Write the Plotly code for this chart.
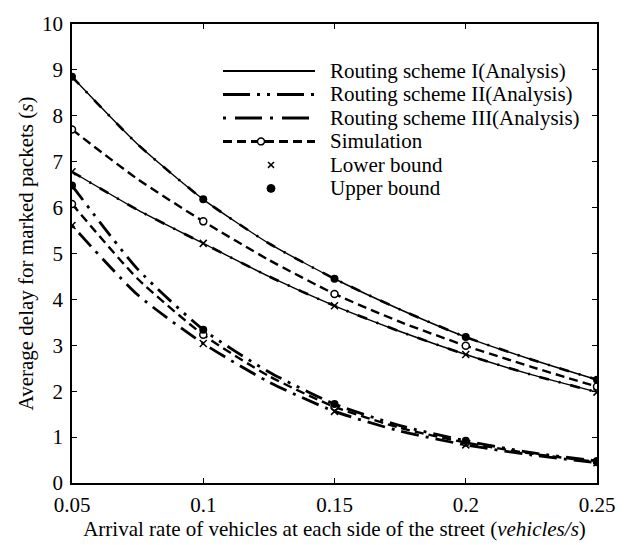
import plotly.graph_objects as go

# Data
x = [0.05, 0.075, 0.1, 0.125, 0.15, 0.175, 0.2, 0.225, 0.25]

# Routing scheme I (upper group)
ub1 = [8.85, 7.38, 6.18, 5.22, 4.45, 3.78, 3.18, 2.69, 2.25]
sim1 = [7.70, 6.62, 5.70, 4.86, 4.12, 3.51, 2.99, 2.53, 2.10]
lb1 = [6.78, 5.95, 5.22, 4.50, 3.86, 3.30, 2.80, 2.36, 1.98]

# Routing schemes II / III (lower group)
ub2 = [6.48, 4.66, 3.34, 2.42, 1.72, 1.25, 0.92, 0.66, 0.48]
sim2 = [6.08, 4.45, 3.23, 2.33, 1.66, 1.20, 0.88, 0.64, 0.46]
lb2 = [5.61, 4.10, 3.04, 2.20, 1.56, 1.13, 0.83, 0.61, 0.44]

xticks = [0.05, 0.1, 0.15, 0.2, 0.25]
xticktext = ["0.05", "0.1", "0.15", "0.2", "0.25"]
yticks = list(range(0, 11))
mark_idx = [0, 2, 4, 6, 8]

legend_labels = ["Routing scheme I(Analysis)", "Routing scheme II(Analysis)",
                 "Routing scheme III(Analysis)", "Simulation", "Lower bound", "Upper bound"]

FONT = "Liberation Serif"
FS = 21
DASHDOTDOT = "18px,7px,3px,7px,3px,7px"
DASHDOT = "3px,7px,18px,7px"
DASH = "9px,5px"

W, H = 633, 545
ML, MR, MT, MB = 72, 36, 14, 62
PW, PH = W - ML - MR, H - MT - MB

def px(xp):
    return (xp - ML) / PW

def py(yp):
    return (H - MB - yp) / PH

fig = go.Figure()

def line(xs, ys, dash, width):
    fig.add_trace(go.Scatter(
        x=xs, y=ys, mode="lines", showlegend=False,
        line=dict(color="black", width=width, dash=dash, shape="spline", smoothing=0.6),
        hoverinfo="skip"))

# scheme I analysis curves (solid) with overlapping dash-dot texture
line(x, ub1, "solid", 1.4)
line(x, lb1, "solid", 1.4)
line(x, ub1, "10px,10px,2px,10px", 2.6)
line(x, lb1, "10px,10px,2px,10px", 2.6)

# scheme II / III analysis curves
line(x, ub2, DASHDOTDOT, 2.8)
line(x, lb2, DASHDOT, 2.8)

# simulation curves
line(x, sim1, DASH, 2.4)
line(x, sim2, DASH, 2.4)

def pick(arr):
    return [arr[i] for i in mark_idx]

xm = pick(x)
fig.add_trace(go.Scatter(
    x=xm * 2, y=pick(sim1) + pick(sim2), mode="markers", showlegend=False,
    marker=dict(symbol="circle", size=7, color="white", line=dict(width=1.5, color="black")),
    hoverinfo="skip"))
fig.add_trace(go.Scatter(
    x=xm * 2, y=pick(lb1) + pick(lb2), mode="markers", showlegend=False,
    marker=dict(symbol="x-thin", size=7, color="black", line=dict(width=1.5, color="black")),
    hoverinfo="skip"))
fig.add_trace(go.Scatter(
    x=xm * 2, y=pick(ub1) + pick(ub2), mode="markers", showlegend=False,
    marker=dict(symbol="circle", size=8, color="black"),
    hoverinfo="skip"))

# ---- manual legend (real text annotations + sample shapes) ----
rows = [62, 86, 110, 134, 158, 182]
lx0, lx1, tx = 223, 315, 328
shapes = []
annotations = []
styles = [("solid", 2.0), (DASHDOTDOT.replace("18px", "27px", 1), 3.0),
          ("3px,9px,27px,8px", 3.0), (DASH, 3.0), (None, 0), (None, 0)]
for r, (lab, (dash, w)) in enumerate(zip(legend_labels, styles)):
    yy = rows[r]
    if dash is not None:
        shapes.append(dict(type="line", xref="paper", yref="paper",
                           x0=px(lx0), x1=px(lx1), y0=py(yy), y1=py(yy),
                           line=dict(color="black", width=w, dash=dash)))
    annotations.append(dict(text=lab, xref="paper", yref="paper", x=px(tx), y=py(yy),
                            xanchor="left", yanchor="middle", showarrow=False,
                            font=dict(family=FONT, size=FS, color="black")))
cx = (lx0 + lx1) / 2
# simulation open circle
shapes.append(dict(type="circle", xref="paper", yref="paper",
                   x0=px(cx - 8 - 3.5), x1=px(cx - 8 + 3.5), y0=py(rows[3] + 3.5), y1=py(rows[3] - 3.5),
                   fillcolor="white", line=dict(color="black", width=1.5)))
# lower bound x
for s in (1, -1):
    shapes.append(dict(type="line", xref="paper", yref="paper",
                       x0=px(cx + 2 - 3), x1=px(cx + 2 + 3), y0=py(rows[4] - 3 * s), y1=py(rows[4] + 3 * s),
                       line=dict(color="black", width=1.5)))
# upper bound dot
shapes.append(dict(type="circle", xref="paper", yref="paper",
                   x0=px(cx + 2 - 4), x1=px(cx + 2 + 4), y0=py(rows[5] + 4), y1=py(rows[5] - 4),
                   fillcolor="black", line=dict(color="black", width=1)))

axis_common = dict(
    showline=True, linecolor="black", linewidth=1.5, mirror="ticks",
    ticks="inside", ticklen=5, tickwidth=1.2, tickcolor="black",
    showgrid=False, zeroline=False,
    tickfont=dict(family=FONT, size=FS, color="black"),
)

fig.update_layout(
    width=W, height=H,
    margin=dict(l=ML, r=MR, t=MT, b=MB),
    paper_bgcolor="white", plot_bgcolor="white",
    font=dict(family=FONT, size=FS, color="black"),
    showlegend=False,
    xaxis=dict(range=[0.05, 0.25], tickvals=xticks, ticktext=xticktext,
               ticklabelstandoff=2,
               title=dict(text="Arrival rate of vehicles at each side of the street (<i>vehicles/s</i>)",
                          font=dict(family=FONT, size=FS), standoff=1),
               **axis_common),
    yaxis=dict(range=[0, 10], tickvals=yticks, ticklabelstandoff=3,
               title=dict(text="Average delay for marked packets (<i>s</i>)",
                          font=dict(family=FONT, size=FS), standoff=3),
               **axis_common),
    shapes=shapes,
    annotations=annotations,
)

fig.write_html("out.html")
